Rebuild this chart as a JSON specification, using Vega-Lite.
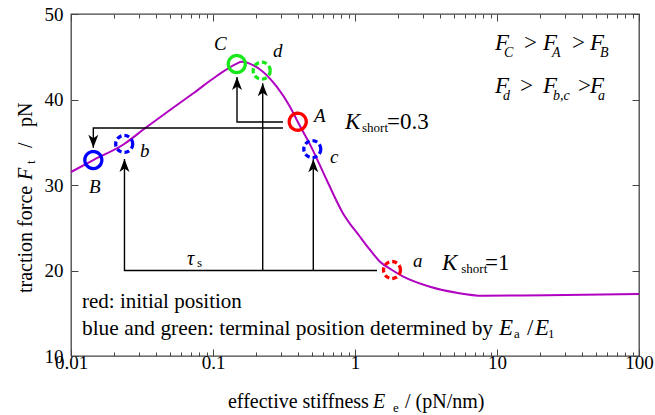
{
  "$schema": "https://vega.github.io/schema/vega-lite/v6.json",
  "width": 568,
  "height": 342,
  "autosize": {"type": "none"},
  "padding": {"left": 71, "top": 14, "right": 16, "bottom": 59},
  "background": "white",
  "config": {
    "view": {"stroke": "#444", "strokeWidth": 1.3},
    "axis": {"domain": false, "grid": false, "labelFont": "Liberation Serif", "labelFontSize": 19, "labelColor": "black", "tickColor": "#444", "tickWidth": 1}
  },
  "datasets": {
    "curve": [
      {"E": 0.01, "F": 31.52}, {"E": 0.01436, "F": 32.92}, {"E": 0.0237, "F": 34.8}, {"E": 0.0332, "F": 36.63},
      {"E": 0.0498, "F": 38.77}, {"E": 0.0727, "F": 40.73}, {"E": 0.1062, "F": 42.75}, {"E": 0.147, "F": 44.2},
      {"E": 0.159, "F": 44.42}, {"E": 0.191, "F": 44.03}, {"E": 0.2203, "F": 43.37}, {"E": 0.281, "F": 41.5},
      {"E": 0.3485, "F": 39.16}, {"E": 0.395, "F": 37.4}, {"E": 0.5004, "F": 34.2}, {"E": 0.632, "F": 30.58},
      {"E": 0.822, "F": 26.7}, {"E": 1.084, "F": 23.95}, {"E": 1.277, "F": 22.4}, {"E": 1.5, "F": 21.03},
      {"E": 1.822, "F": 20.06}, {"E": 2.19, "F": 19.28}, {"E": 3.37, "F": 18.1}, {"E": 5.21, "F": 17.4},
      {"E": 7.97, "F": 17.05}, {"E": 22.4, "F": 17.1}, {"E": 100, "F": 17.25}
    ],
    "circles": [
      {"name": "A", "E": 0.395, "F": 37.4, "state": "initial", "K": "0.3"},
      {"name": "B", "E": 0.01436, "F": 32.92, "state": "terminal low", "K": "0.3"},
      {"name": "C", "E": 0.147, "F": 44.15, "state": "terminal high", "K": "0.3"},
      {"name": "a", "E": 1.822, "F": 20.06, "state": "initial", "K": "1"},
      {"name": "b", "E": 0.0237, "F": 34.8, "state": "terminal low", "K": "1"},
      {"name": "c", "E": 0.5004, "F": 34.2, "state": "terminal low", "K": "1"},
      {"name": "d", "E": 0.2203, "F": 43.37, "state": "terminal high", "K": "1"}
    ],
    "paths": [
      {"path": "AC", "o": 1, "E": 0.311, "F": 37.37}, {"path": "AC", "o": 2, "E": 0.1476, "F": 37.37}, {"path": "AC", "o": 3, "E": 0.1476, "F": 42.63},
      {"path": "AB", "o": 1, "E": 0.311, "F": 36.67}, {"path": "AB", "o": 2, "E": 0.01436, "F": 36.67}, {"path": "AB", "o": 3, "E": 0.01436, "F": 34.35},
      {"path": "ab", "o": 1, "E": 1.429, "F": 20}, {"path": "ab", "o": 2, "E": 0.0238, "F": 20}, {"path": "ab", "o": 3, "E": 0.0238, "F": 33.04},
      {"path": "ad", "o": 1, "E": 0.2239, "F": 20}, {"path": "ad", "o": 2, "E": 0.2239, "F": 41.9},
      {"path": "ac", "o": 1, "E": 0.5085, "F": 20}, {"path": "ac", "o": 2, "E": 0.5085, "F": 33.0}
    ],
    "heads": [
      {"E": 0.1476, "F": 42.63, "dir": "up"},
      {"E": 0.01436, "F": 34.35, "dir": "down"},
      {"E": 0.0238, "F": 33.04, "dir": "up"},
      {"E": 0.2239, "F": 41.9, "dir": "up"},
      {"E": 0.5085, "F": 33.0, "dir": "up"}
    ],
    "italicText": [
      {"t": "C", "E": 0.1016, "F": 45.79, "role": "label"},
      {"t": "d", "E": 0.2646, "F": 44.97, "role": "label"},
      {"t": "A", "E": 0.5144, "F": 37.37, "role": "label"},
      {"t": "b", "E": 0.03061, "F": 33.27, "role": "label"},
      {"t": "c", "E": 0.6667, "F": 32.57, "role": "label"},
      {"t": "B", "E": 0.01339, "F": 29.06, "role": "label"},
      {"t": "a", "E": 2.562, "F": 20.41, "role": "label"},
      {"t": "K", "E": 0.8503, "F": 36.55, "role": "big"},
      {"t": "K", "E": 4.1, "F": 20.06, "role": "big"},
      {"t": "F", "E": 9.681, "F": 45.79, "role": "big"},
      {"t": "C", "E": 11.2, "F": 44.97, "role": "sub"},
      {"t": "F", "E": 21.08, "F": 45.79, "role": "big"},
      {"t": "A", "E": 24.39, "F": 44.97, "role": "sub"},
      {"t": "F", "E": 45.18, "F": 45.79, "role": "big"},
      {"t": "B", "E": 53.13, "F": 44.97, "role": "sub"},
      {"t": "F", "E": 9.681, "F": 40.76, "role": "big"},
      {"t": "d", "E": 11.02, "F": 39.94, "role": "sub"},
      {"t": "F", "E": 21.08, "F": 40.76, "role": "big"},
      {"t": "b,c", "E": 24.8, "F": 39.94, "role": "sub"},
      {"t": "F", "E": 45.18, "F": 40.76, "role": "big"},
      {"t": "a", "E": 51.43, "F": 39.94, "role": "sub"},
      {"t": "τ", "E": 0.0656, "F": 20.64, "role": "title"},
      {"t": "E", "E": 10.33, "F": 12.46, "role": "big"},
      {"t": "E", "E": 18.52, "F": 12.46, "role": "big"},
      {"t": "E", "E": 1.339, "F": 3.92, "role": "title"}
    ],
    "plainText": [
      {"t": "short", "E": 1.12, "F": 36.2, "role": "ksub"},
      {"t": "=0.3", "E": 1.68, "F": 36.55, "role": "big"},
      {"t": "short", "E": 5.6, "F": 19.71, "role": "ksub"},
      {"t": "=1", "E": 8.233, "F": 20.06, "role": "big"},
      {"t": ">", "E": 15.49, "F": 45.79, "role": "big"},
      {"t": ">", "E": 33.74, "F": 45.79, "role": "big"},
      {"t": ">", "E": 14.52, "F": 40.76, "role": "big"},
      {"t": ">", "E": 37.2, "F": 40.76, "role": "big"},
      {"t": "s", "E": 0.07715, "F": 20.41, "role": "tsub"},
      {"t": "red: initial position", "E": 0.01195, "F": 15.61, "role": "text"},
      {"t": "blue and green: terminal position determined by", "E": 0.01195, "F": 12.46, "role": "text2"},
      {"t": "a", "E": 13.17, "F": 12.11, "role": "tsub"},
      {"t": "/", "E": 16.27, "F": 12.46, "role": "big"},
      {"t": "1", "E": 22.87, "F": 12.11, "role": "tsub"},
      {"t": "effective stiffness", "E": 0.1275, "F": 3.92, "role": "title"},
      {"t": "e", "E": 1.85, "F": 3.45, "role": "tsub"},
      {"t": "/ (pN/nm)", "E": 2.249, "F": 3.92, "role": "title"}
    ],
    "yTitlePlain": [
      {"t": "traction force", "E": 0.00531, "F": 17.37, "role": "title"},
      {"t": "t", "E": 0.00558, "F": 32.46, "role": "tsub"},
      {"t": "/", "E": 0.00531, "F": 34.33, "role": "title"},
      {"t": "pN", "E": 0.00531, "F": 36.78, "role": "title"}
    ],
    "yTitleItalic": [
      {"t": "F", "E": 0.00531, "F": 30.58, "role": "title"}
    ]
  },
  "layer": [
    {
      "data": {"name": "curve"},
      "mark": {"type": "line", "color": "#b000c0", "strokeWidth": 2, "interpolate": "monotone"},
      "encoding": {
        "x": {"field": "E", "type": "quantitative",
          "scale": {"type": "log", "domain": [0.01, 100], "nice": false},
          "axis": {"orient": "bottom", "title": null,
            "values": [0.01,0.02,0.03,0.04,0.05,0.06,0.07,0.08,0.09,0.1,0.2,0.3,0.4,0.5,0.6,0.7,0.8,0.9,1,2,3,4,5,6,7,8,9,10,20,30,40,50,60,70,80,90,100],
            "labelExpr": "abs(log(datum.value)/LN10 - round(log(datum.value)/LN10)) < 0.001 ? format(datum.value, '~g') : ''",
            "labelFlush": false, "labelOverlap": false, "labelPadding": 4,
            "tickSize": {"condition": {"test": "abs(log(datum.value)/LN10 - round(log(datum.value)/LN10)) < 0.001", "value": -7}, "value": -4}}},
        "y": {"field": "F", "type": "quantitative",
          "scale": {"domain": [10, 50], "nice": false, "zero": false},
          "axis": {"orient": "left", "title": null, "values": [10, 20, 30, 40, 50], "tickSize": -7, "labelPadding": 15, "labelFlush": false, "labelOverlap": false}}
      }
    },
    {
      "data": {"name": "paths"},
      "mark": {"type": "line", "color": "black", "strokeWidth": 1.4},
      "encoding": {
        "x": {"field": "E", "type": "quantitative", "scale": {"type": "log", "domain": [0.01, 100], "nice": false}, "axis": null},
        "y": {"field": "F", "type": "quantitative", "scale": {"domain": [10, 50], "nice": false, "zero": false}, "axis": null},
        "detail": {"field": "path"},
        "order": {"field": "o"}
      }
    },
    {
      "data": {"name": "heads"},
      "mark": {"type": "point", "filled": true, "color": "black", "size": 100, "opacity": 1},
      "encoding": {
        "x": {"field": "E", "type": "quantitative", "scale": {"type": "log", "domain": [0.01, 100], "nice": false}, "axis": null},
        "y": {"field": "F", "type": "quantitative", "scale": {"domain": [10, 50], "nice": false, "zero": false}, "axis": null},
        "shape": {"field": "dir", "type": "nominal", "legend": null,
          "scale": {"domain": ["up", "down"], "range": ["M0,0L1,2.6L0,1.9L-1,2.6Z", "M0,0L1,-2.6L0,-1.9L-1,-2.6Z"]}}
      }
    },
    {
      "data": {"name": "circles"},
      "mark": {"type": "point", "filled": false, "size": 289, "strokeWidth": 3.3, "opacity": 1},
      "encoding": {
        "x": {"field": "E", "type": "quantitative", "scale": {"type": "log", "domain": [0.01, 100], "nice": false},
          "axis": {"orient": "top", "title": null, "labels": false,
            "values": [0.01,0.02,0.03,0.04,0.05,0.06,0.07,0.08,0.09,0.1,0.2,0.3,0.4,0.5,0.6,0.7,0.8,0.9,1,2,3,4,5,6,7,8,9,10,20,30,40,50,60,70,80,90,100],
            "tickSize": {"condition": {"test": "abs(log(datum.value)/LN10 - round(log(datum.value)/LN10)) < 0.001", "value": -7}, "value": -4}}},
        "y": {"field": "F", "type": "quantitative", "scale": {"domain": [10, 50], "nice": false, "zero": false},
          "axis": {"orient": "right", "title": null, "labels": false, "values": [10, 20, 30, 40, 50], "tickSize": -7}},
        "color": {"field": "state", "type": "nominal", "legend": null,
          "scale": {"domain": ["initial", "terminal low", "terminal high"], "range": ["#ff0000", "#0000ff", "#18e818"]}},
        "strokeDash": {"field": "K", "type": "nominal", "legend": null,
          "scale": {"domain": ["0.3", "1"], "range": [[1, 0], [5, 3]]}}
      }
    },
    {
      "data": {"name": "italicText"},
      "mark": {"type": "text", "font": "Liberation Serif", "fontStyle": "italic", "align": "left", "baseline": "alphabetic", "color": "black"},
      "encoding": {
        "x": {"field": "E", "type": "quantitative", "scale": {"type": "log", "domain": [0.01, 100], "nice": false}, "axis": null},
        "y": {"field": "F", "type": "quantitative", "scale": {"domain": [10, 50], "nice": false, "zero": false}, "axis": null},
        "text": {"field": "t"},
        "size": {"field": "role", "type": "nominal", "legend": null,
          "scale": {"type": "ordinal", "domain": ["label", "big", "sub", "text", "title", "tsub", "ksub", "text2"], "range": [19, 23, 14, 21, 20, 13, 13, 21.4]}}
      }
    },
    {
      "data": {"name": "plainText"},
      "mark": {"type": "text", "font": "Liberation Serif", "align": "left", "baseline": "alphabetic", "color": "black"},
      "encoding": {
        "x": {"field": "E", "type": "quantitative", "scale": {"type": "log", "domain": [0.01, 100], "nice": false}, "axis": null},
        "y": {"field": "F", "type": "quantitative", "scale": {"domain": [10, 50], "nice": false, "zero": false}, "axis": null},
        "text": {"field": "t"},
        "size": {"field": "role", "type": "nominal", "legend": null,
          "scale": {"type": "ordinal", "domain": ["label", "big", "sub", "text", "title", "tsub", "ksub", "text2"], "range": [19, 23, 14, 21, 20, 13, 13, 21.4]}}
      }
    },
    {
      "data": {"name": "yTitlePlain"},
      "mark": {"type": "text", "font": "Liberation Serif", "align": "left", "baseline": "alphabetic", "color": "black", "angle": 270},
      "encoding": {
        "x": {"field": "E", "type": "quantitative", "scale": {"type": "log", "domain": [0.01, 100], "nice": false}, "axis": null},
        "y": {"field": "F", "type": "quantitative", "scale": {"domain": [10, 50], "nice": false, "zero": false}, "axis": null},
        "text": {"field": "t"},
        "size": {"field": "role", "type": "nominal", "legend": null,
          "scale": {"type": "ordinal", "domain": ["label", "big", "sub", "text", "title", "tsub", "ksub", "text2"], "range": [19, 23, 14, 21, 20, 13, 13, 21.4]}}
      }
    },
    {
      "data": {"name": "yTitleItalic"},
      "mark": {"type": "text", "font": "Liberation Serif", "fontStyle": "italic", "align": "left", "baseline": "alphabetic", "color": "black", "angle": 270},
      "encoding": {
        "x": {"field": "E", "type": "quantitative", "scale": {"type": "log", "domain": [0.01, 100], "nice": false}, "axis": null},
        "y": {"field": "F", "type": "quantitative", "scale": {"domain": [10, 50], "nice": false, "zero": false}, "axis": null},
        "text": {"field": "t"},
        "size": {"field": "role", "type": "nominal", "legend": null,
          "scale": {"type": "ordinal", "domain": ["label", "big", "sub", "text", "title", "tsub", "ksub", "text2"], "range": [19, 23, 14, 21, 20, 13, 13, 21.4]}}
      }
    }
  ],
  "resolve": {"axis": {"x": "independent", "y": "independent"}}
}
